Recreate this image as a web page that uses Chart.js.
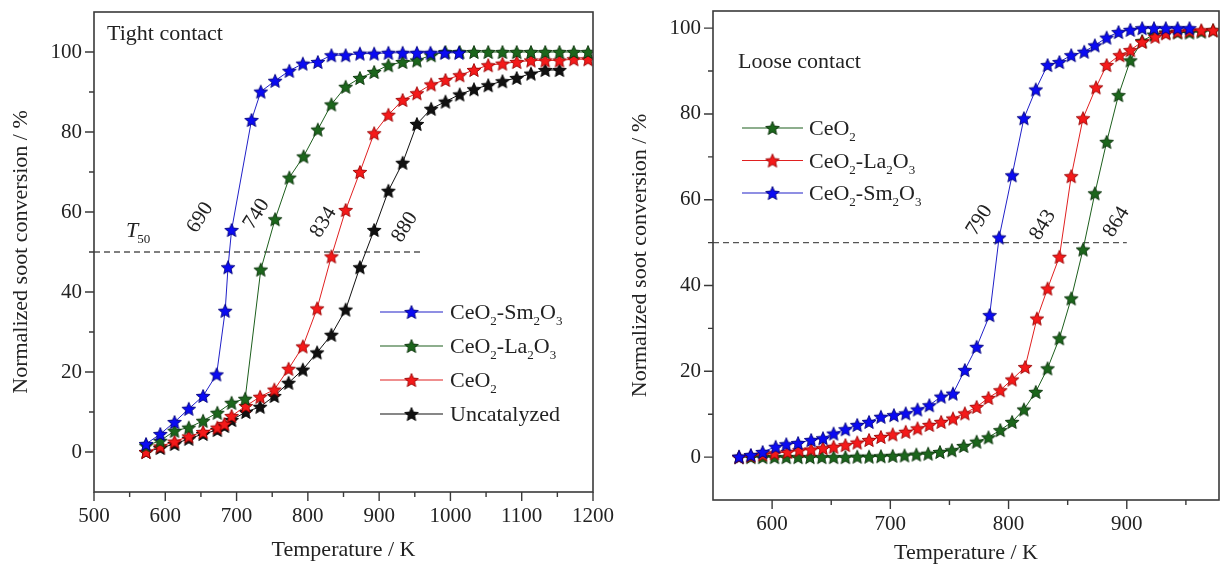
<!DOCTYPE html>
<html><head><meta charset="utf-8">
<script src="https://cdn.jsdelivr.net/npm/chart.js@4.4.1/dist/chart.umd.min.js"></script>
<style>
html,body{margin:0;padding:0;background:#fff;width:1220px;height:572px;overflow:hidden}
#c1{position:absolute;left:0;top:0}
#c2{position:absolute;left:620px;top:0}
</style></head><body>
<canvas id="c1" width="620" height="572" style="width:620px;height:572px"></canvas>
<canvas id="c2" width="600" height="572" style="width:600px;height:572px"></canvas>
<script>
// ---------- Tight contact (left) ----------
const tightSmT = [573,593,613,633,653,672,684,688,693,721,734,754,774,793,814,833,853,873,893,913,933,953,972,992,1012];
const tightSmV = [2,4.5,7.5,10.8,14,19.4,35.3,46.2,55.5,83,90.1,92.8,95.3,97.1,97.5,99.2,99.2,99.6,99.6,99.8,99.8,99.8,99.8,99.8,99.8];
const tightLaT = [573,593,613,633,653,673,693,712,734,754,774,794,814,833,853,873,893,913,933,953,973,993,1013,1033,1053,1073,1093,1113,1133,1153,1173,1193];
const tightLaV = [1.6,2.8,5.3,6.1,7.8,9.8,12.3,13.3,45.6,58.2,68.6,73.9,80.6,86.9,91.3,93.5,95,96.7,97.5,97.9,99.2,100,100,100,100,100,100,100,100,100,100,100];
const tightCeT = [573,593,613,633,653,673,683,693,713,733,753,773,793,813,833,853,873,893,913,933,953,973,993,1013,1033,1053,1073,1093,1113,1133,1153,1173,1193];
const tightCeV = [0,1.4,2.6,3.9,5,6.1,7,9,11.5,13.8,15.6,20.8,26.4,35.9,48.9,60.5,70,79.7,84.3,88,89.7,91.9,93,94.2,95.5,96.7,97.1,97.5,97.9,97.9,97.9,98.2,98.2];
const tightUnT = [573,593,613,633,653,673,683,693,713,733,753,773,793,813,833,853,873,893,913,933,953,973,993,1013,1033,1053,1073,1093,1113,1133,1153];
const tightUnV = [0,1,2,3.3,4.5,5.5,6.5,8,10,11.3,14,17.3,20.6,24.9,29.3,35.6,46.2,55.5,65.3,72.3,82,85.8,87.6,89.4,90.7,91.7,92.7,93.5,94.6,95.5,95.5];

// ---------- Loose contact (right) ----------
const looseCeT = [572,582,592,602,612,622,632,642,652,662,672,682,692,702,712,722,732,742,752,762,773,783,793,803,813,823,833,843,853,863,873,883,893,903,913,923,933,943,953,963,973];
const looseCeV = [0,0,0,0,0,0,0,0,0,0,0.1,0.1,0.2,0.3,0.4,0.6,0.8,1.2,1.6,2.6,3.6,4.6,6.3,8.2,11.1,15.2,20.7,27.7,37,48.4,61.5,73.5,84.4,92.5,97,98.5,99,99,99,99.2,99.5];
const looseLaT = [572,582,592,602,613,623,633,643,652,662,672,682,692,702,713,723,733,743,753,763,773,783,793,803,814,824,833,843,853,863,874,883,894,903,913,924,933,943,953,963,973];
const looseLaV = [0,0.3,0.6,0.9,1.2,1.6,1.8,2.1,2.4,2.8,3.4,4,4.7,5.3,5.9,6.7,7.5,8.2,9,10.2,11.7,13.8,15.6,18.1,21,32.3,39.3,46.7,65.5,79,86.2,91.4,93.7,94.9,96.8,98,98.8,99.2,99.4,99.5,99.5];
const looseSmT = [572,582,592,603,612,622,633,643,652,662,672,682,692,703,713,723,733,743,753,763,773,784,792,803,813,823,833,843,853,864,873,883,893,903,913,923,933,943,953];
const looseSmV = [0.1,0.5,1.2,2.4,3,3.3,4,4.4,5.5,6.5,7.5,8.2,9.4,9.8,10.2,11.1,12.1,14.1,14.8,20.3,25.7,33.1,51.2,65.7,79,85.7,91.4,92.1,93.7,94.5,96,97.8,99.1,99.6,100,100,100,100,100];

// ---------- labels / ticks ----------
const leftXTicks = [500,600,700,800,900,1000,1100,1200];
const rightXTicks = [600,700,800,900];
const yTicks = [0,20,40,60,80,100];
const tightT50Labels = ['690','740','834','880'];
const looseT50Labels = ['790','843','864'];
const nameSm = 'CeO₂-Sm₂O₃', nameLa = 'CeO₂-La₂O₃', nameCe = 'CeO₂', nameUn = 'Uncatalyzed';

const SERIF = '"Liberation Serif", "Times New Roman", serif';
const TXT = '#222';

function makeStar(fill, stroke, R) {
  const s = Math.ceil(R * 2 + 3);
  const c = document.createElement('canvas'); c.width = s; c.height = s;
  const g = c.getContext('2d');
  g.translate(s / 2, s / 2 + R * 0.1);
  g.beginPath();
  for (let i = 0; i < 10; i++) {
    const a = -Math.PI / 2 + i * Math.PI / 5;
    const rr = i % 2 ? R * 0.45 : R;
    g.lineTo(rr * Math.cos(a), rr * Math.sin(a));
  }
  g.closePath();
  g.fillStyle = fill; g.fill();
  g.lineWidth = 0.9; g.strokeStyle = stroke; g.stroke();
  return c;
}
const COL = {
  blue:  {line: '#2020c8', star: makeStar('#0b0bf2', '#00007a', 7.2)},
  green: {line: '#1d5f1d', star: makeStar('#1c661c', '#083008', 7.2)},
  red:   {line: '#e02020', star: makeStar('#f41a1a', '#9a0000', 7.2)},
  black: {line: '#111111', star: makeStar('#111111', '#000000', 7.2)}
};

function series(label, T, V, c, order) {
  return {
    label, order,
    data: T.map((t, i) => ({x: t, y: V[i]})),
    borderColor: COL[c].line, borderWidth: 1, fill: false, tension: 0,
    pointStyle: COL[c].star, pointRadius: 6, pointHoverRadius: 6,
    legendStar: COL[c].star
  };
}
function dashLine(x0, x1) {
  return {label: '_t50', order: 10, data: [{x: x0, y: 50}, {x: x1, y: 50}],
    borderColor: '#555', borderWidth: 1.3, borderDash: [6, 4], pointRadius: 0, fill: false};
}

function drawRich(ctx, text, x, y, size, italic) {
  const segs = [];
  for (const ch of text) {
    const code = ch.codePointAt(0);
    const sub = code >= 0x2080 && code <= 0x2089;
    const c = sub ? String.fromCharCode(48 + code - 0x2080) : ch;
    if (segs.length && segs[segs.length - 1].sub === sub) segs[segs.length - 1].t += c;
    else segs.push({t: c, sub});
  }
  let cx = x;
  ctx.textAlign = 'left'; ctx.textBaseline = 'alphabetic';
  for (const s of segs) {
    const fs = s.sub ? Math.round(size * 0.6) : size;
    ctx.font = (italic && !s.sub ? 'italic ' : '') + fs + 'px ' + SERIF;
    ctx.fillText(s.t, cx, s.sub ? y + size * 0.28 : y);
    cx += ctx.measureText(s.t).width;
  }
}

const annot = {
  id: 'annot',
  afterDraw(chart, args, o) {
    const ctx = chart.ctx, a = chart.chartArea;
    const xs = chart.scales.x, ys = chart.scales.y;
    ctx.save();
    // frame
    ctx.strokeStyle = '#3a3a3a'; ctx.lineWidth = 1.6;
    ctx.strokeRect(a.left, a.top, a.right - a.left, a.bottom - a.top);
    // ticks
    ctx.lineWidth = 1.4;
    const minors = (vals, min, max) => {
      const m = [];
      for (let i = 0; i < vals.length - 1; i++) m.push((vals[i] + vals[i + 1]) / 2);
      const st = vals[1] - vals[0];
      if (vals[0] - st / 2 > min + 1) m.push(vals[0] - st / 2);
      if (vals[vals.length - 1] + st / 2 < max - 1) m.push(vals[vals.length - 1] + st / 2);
      return m;
    };
    const xv = xs.ticks.map(t => t.value), yv = ys.ticks.map(t => t.value);
    ctx.beginPath();
    xv.forEach(v => { const p = xs.getPixelForValue(v); ctx.moveTo(p, a.bottom); ctx.lineTo(p, a.bottom + 9); });
    minors(xv, xs.min, xs.max).forEach(v => { const p = xs.getPixelForValue(v); ctx.moveTo(p, a.bottom); ctx.lineTo(p, a.bottom + 5); });
    yv.forEach(v => { const p = ys.getPixelForValue(v); ctx.moveTo(a.left, p); ctx.lineTo(a.left - 9, p); });
    minors(yv, ys.min, ys.max).forEach(v => { const p = ys.getPixelForValue(v); ctx.moveTo(a.left, p); ctx.lineTo(a.left - 5, p); });
    ctx.stroke();

    ctx.fillStyle = TXT;
    // panel title
    ctx.font = '22px ' + SERIF; ctx.textAlign = 'left'; ctx.textBaseline = 'middle';
    ctx.fillText(o.title.text, a.left + o.title.dx, a.top + o.title.dy);
    // rotated T50 values
    ctx.font = '21px ' + SERIF;
    o.rot.forEach(r => {
      ctx.save();
      ctx.translate(xs.getPixelForValue(r.x), ys.getPixelForValue(r.y));
      ctx.rotate(-58 * Math.PI / 180);
      ctx.textAlign = 'center'; ctx.textBaseline = 'middle';
      ctx.fillText(r.text, 0, 0);
      ctx.restore();
    });
    // T50 symbol
    if (o.t50) {
      const px = xs.getPixelForValue(o.t50.x), py = ys.getPixelForValue(o.t50.y);
      ctx.font = 'italic 22px ' + SERIF; ctx.textAlign = 'left'; ctx.textBaseline = 'alphabetic';
      ctx.fillText('T', px, py);
      const w = ctx.measureText('T').width;
      ctx.font = '13px ' + SERIF;
      ctx.fillText('50', px + w - 1, py + 6);
    }
    // legend
    const L = o.legend;
    L.items.forEach((idx, k) => {
      const ds = chart.data.datasets[idx];
      const y = L.y0 + k * L.dy;
      ctx.strokeStyle = ds.borderColor; ctx.lineWidth = 1.2;
      ctx.beginPath(); ctx.moveTo(L.x1, y); ctx.lineTo(L.x2, y); ctx.stroke();
      const st = ds.legendStar;
      ctx.drawImage(st, (L.x1 + L.x2) / 2 - st.width / 2, y - st.height / 2);
      ctx.fillStyle = TXT;
      drawRich(ctx, ds.label, L.tx, y + 7, 22, false);
    });
    ctx.restore();
  }
};

function makeChart(id, cfg) {
  return new Chart(document.getElementById(id), {
    type: 'line',
    data: {datasets: cfg.datasets},
    options: {
      responsive: false, animation: false, events: [],
      layout: {autoPadding: false, padding: {top: cfg.top, right: cfg.right, left: 0, bottom: 0}},
      plugins: {legend: {display: false}, tooltip: {enabled: false}, annot: cfg.annot},
      scales: {
        x: {
          type: 'linear', min: cfg.xmin, max: cfg.xmax,
          afterBuildTicks: s => { s.ticks = cfg.xticks.map(v => ({value: v})); },
          afterFit: s => { s.height = cfg.xh; s.paddingLeft = 0; s.paddingRight = 0; s.paddingTop = 0; s.paddingBottom = 0; },
          grid: {display: false, drawTicks: false}, border: {display: false},
          ticks: {font: {family: SERIF, size: 21}, color: TXT, padding: cfg.xpad, maxRotation: 0, autoSkip: false,
                  callback: v => String(v)},
          title: {display: true, text: 'Temperature / K', font: {family: SERIF, size: 22}, color: TXT, padding: {top: 0, bottom: cfg.xtpad}}
        },
        y: {
          min: cfg.ymin, max: cfg.ymax,
          afterBuildTicks: s => { s.ticks = yTicks.map(v => ({value: v})); },
          afterFit: s => { s.width = cfg.yw; s.paddingLeft = 0; s.paddingRight = 0; s.paddingTop = 0; s.paddingBottom = 0; },
          grid: {display: false, drawTicks: false}, border: {display: false},
          ticks: {font: {family: SERIF, size: 21}, color: TXT, padding: 12, callback: v => String(v)},
          title: {display: true, text: 'Normalized soot conversion / %', font: {family: SERIF, size: 22}, color: TXT, padding: {top: cfg.ytpad, bottom: 0}}
        }
      }
    },
    plugins: [annot]
  });
}

makeChart('c1', {
  datasets: [
    series(nameSm, tightSmT, tightSmV, 'blue', 0),
    series(nameLa, tightLaT, tightLaV, 'green', 1),
    series(nameCe, tightCeT, tightCeV, 'red', 2),
    series(nameUn, tightUnT, tightUnV, 'black', 3),
    dashLine(500, 960)
  ],
  top: 12, right: 27, xh: 80, yw: 94, xpad: 12, xtpad: 9, ytpad: 8,
  xmin: 500, xmax: 1200, ymin: -10, ymax: 110, xticks: leftXTicks,
  annot: {
    title: {text: 'Tight contact', dx: 13, dy: 22},
    rot: [
      {text: tightT50Labels[0], x: 649, y: 58.6},
      {text: tightT50Labels[1], x: 728, y: 59.5},
      {text: tightT50Labels[2], x: 822, y: 57.4},
      {text: tightT50Labels[3], x: 936, y: 56.2}
    ],
    t50: {x: 545, y: 53.8},
    legend: {items: [0, 1, 2, 3], x1: 380, x2: 443, y0: 312, dy: 34, tx: 450}
  }
});

makeChart('c2', {
  datasets: [
    series(nameCe, looseCeT, looseCeV, 'green', 2),
    series(nameLa, looseLaT, looseLaV, 'red', 1),
    series(nameSm, looseSmT, looseSmV, 'blue', 0),
    dashLine(550, 900)
  ],
  top: 11, right: 1, xh: 72, yw: 93, xpad: 12, xtpad: 6, ytpad: 7,
  xmin: 550, xmax: 978, ymin: -10, ymax: 104, xticks: rightXTicks,
  annot: {
    title: {text: 'Loose contact', dx: 25, dy: 51},
    rot: [
      {text: looseT50Labels[0], x: 775.4, y: 55.2},
      {text: looseT50Labels[1], x: 829, y: 54.1},
      {text: looseT50Labels[2], x: 891.3, y: 54.8}
    ],
    t50: null,
    legend: {items: [0, 1, 2], x1: 122, x2: 183, y0: 128, dy: 32.5, tx: 189}
  }
});
</script>
</body></html>
